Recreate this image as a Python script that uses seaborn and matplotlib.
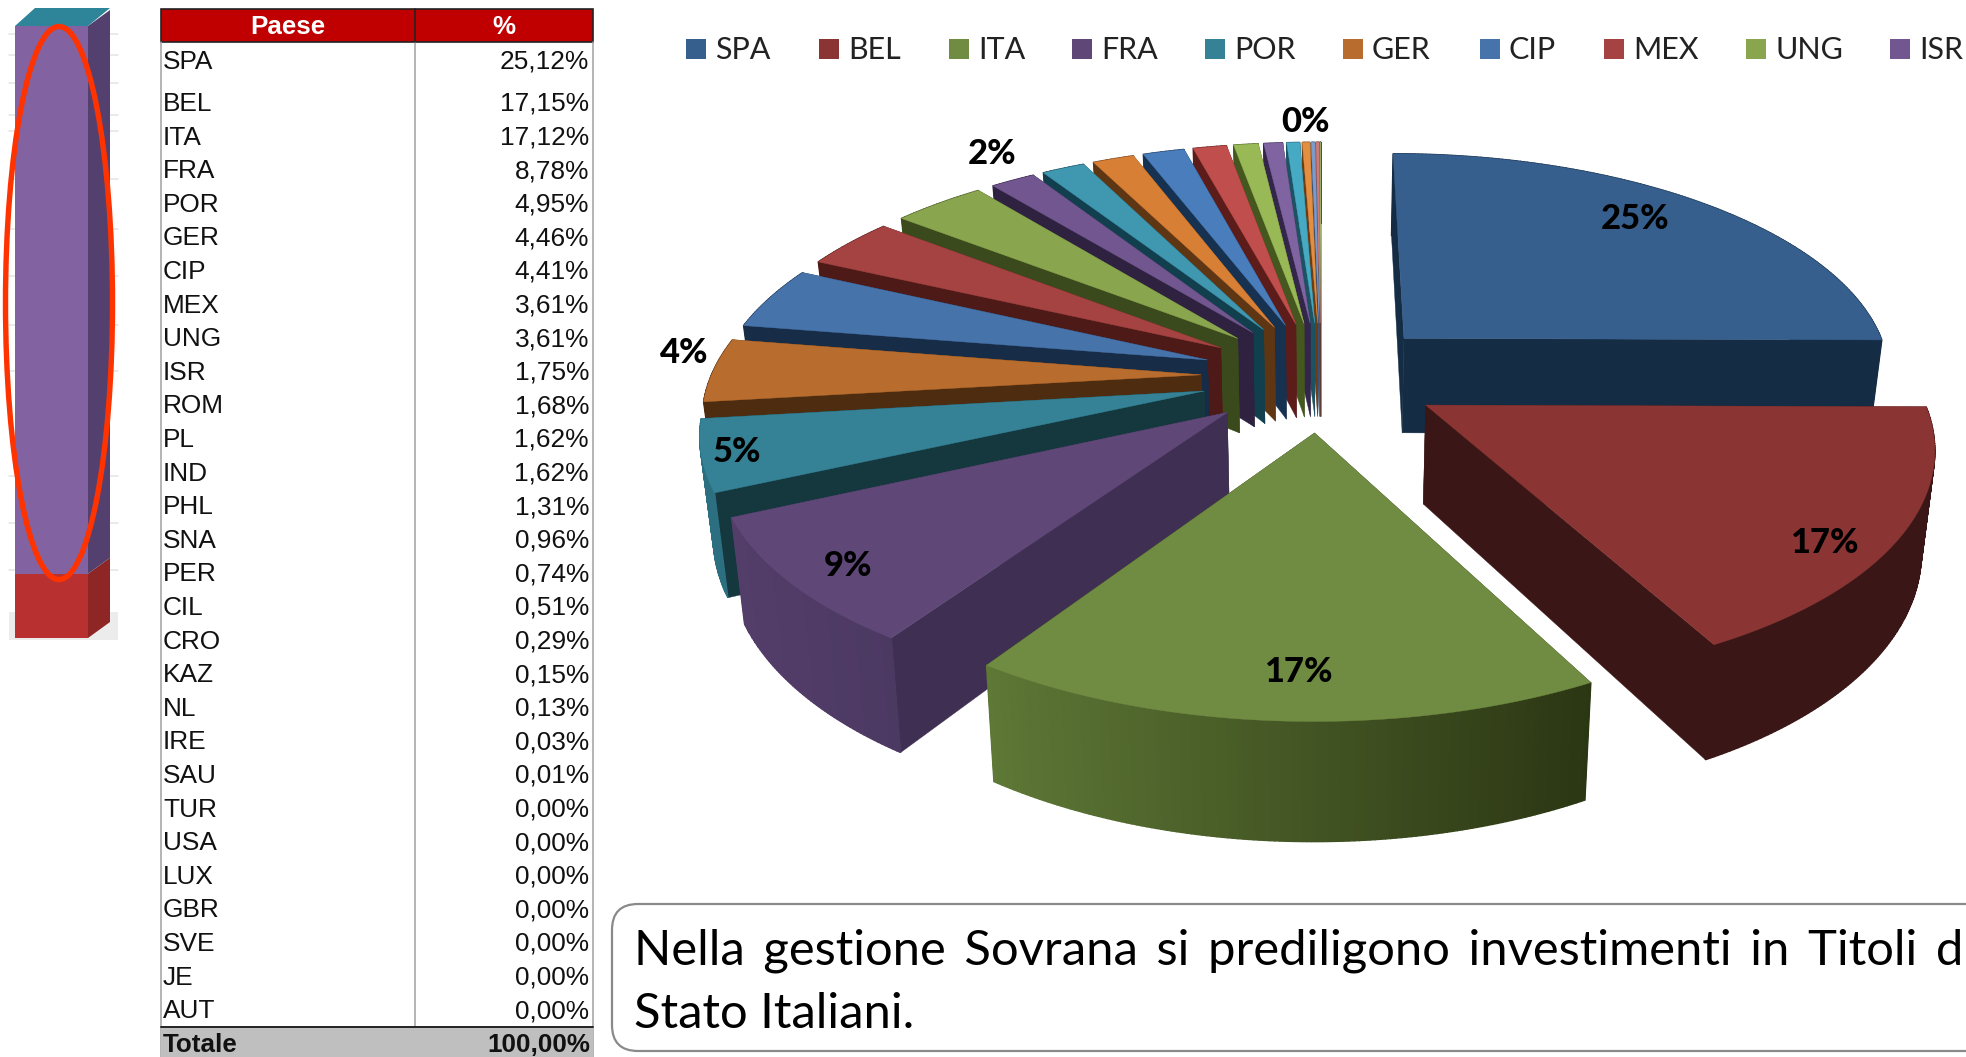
import numpy as np
import pandas as pd
import seaborn as sns
import matplotlib
matplotlib.use("Agg")
import matplotlib.pyplot as plt
from matplotlib.patches import Polygon, Rectangle, Ellipse, FancyBboxPatch

countries = ["SPA","BEL","ITA","FRA","POR","GER","CIP","MEX","UNG","ISR","ROM","PL","IND","PHL","SNA","PER",
             "CIL","CRO","KAZ","NL","IRE","SAU","TUR","USA","LUX","GBR","SVE","JE","AUT"]
percent = [25.12,17.15,17.12,8.78,4.95,4.46,4.41,3.61,3.61,1.75,1.68,1.62,1.62,1.31,0.96,0.74,
           0.51,0.29,0.15,0.13,0.03,0.01,0.0,0.0,0.0,0.0,0.0,0.0,0.0]
percent_text = ["25,12%","17,15%","17,12%","8,78%","4,95%","4,46%","4,41%","3,61%","3,61%","1,75%","1,68%","1,62%",
                "1,62%","1,31%","0,96%","0,74%","0,51%","0,29%","0,15%","0,13%","0,03%","0,01%","0,00%","0,00%",
                "0,00%","0,00%","0,00%","0,00%","0,00%"]
total_text = "100,00%"
legend_names = countries[:10]
top_colors = ["#365f8d","#8a3533","#708b42","#5f4878","#358296","#b86d2e","#4773ab","#a44341","#89a54e","#71568f",
              "#4097b0","#d87f36","#4a7dbb","#bf4e4c","#98b955","#7f64a1","#46aac5","#e48e41","#7b9bcb","#cc7b7a",
              "#a5bd70","#937bb0","#60b5cc","#eba060","#93add6","#d89594","#b5cb85","#a792c0","#7cc4d8"]
wall_colors = ["#152c45","#3a1716","#2d3714","#3f2f52","#15383f","#4e2c10","#172c47","#4e1a17","#3a4a1c","#2e2240",
               "#123f4d","#5f3613","#173150","#5b1c1a","#44571f","#33264a","#1c5261","#6b3d14","#3c5170","#613331",
               "#53613a","#463a58","#2a5a66","#70451f","#455a7a","#6a4444","#596544","#50446a","#3c606c"]
arc_left = {"ITA":"#5e7836","FRA":"#533e6a","BEL":"#3a1716","SPA":"#152c45","POR":"#2b6f80"}
arc_right = {"ITA":"#2b3613","FRA":"#4c3962","BEL":"#3a1716","SPA":"#152c45","POR":"#2b6f80"}
label_text = {"SPA":"25%","BEL":"17%","ITA":"17%","FRA":"9%","POR":"5%","GER":"4%","ISR":"2%","NL":"0%"}
bar_shares = [10.5, 89.5]
bar_colors = ["#b93031","#8262a0"]
bar_side_colors = ["#8f2626","#53406f"]
note_lines = ["Nella gestione Sovrana si prediligono investimenti in Titoli di", "Stato Italiani."]

sns.set_theme(style="white")
plt.rcParams["font.family"] = ["Lato", "DejaVu Sans"]
df = pd.DataFrame({"paese":countries,"pct":percent,"top":top_colors,"wall":wall_colors})
palette = sns.color_palette(top_colors[:10])

W, H = 1966, 1057
fig = plt.figure(figsize=(W/100, H/100), dpi=100, facecolor="white")
ax = fig.add_axes([0,0,1,1])
ax.set_xlim(0, W); ax.set_ylim(H, 0); ax.axis("off")
sns.despine(ax=ax, left=True, bottom=True)
px = lambda v: v*0.72

# ---------------- left 3D stacked bar
BX0,BX1,BX2 = 15,88,110
BT,BB,DY = 26,638,16
for y in [34,55,83,115,131,179,229,276,325,371,476,523,570]:
    ax.plot([9,118],[y,y],color="#e4e4e4",lw=1.1,zorder=1)
ax.add_patch(Rectangle((9,612),109,28,fc="#ececec",ec="none",zorder=1))
span = BB-BT
y_cur = BB
for share,c,cs in zip(bar_shares,bar_colors,bar_side_colors):
    h = span*share/100
    ax.add_patch(Rectangle((BX0,y_cur-h),BX1-BX0,h,fc=c,ec="none",zorder=3))
    ax.add_patch(Polygon([(BX1,y_cur),(BX1,y_cur-h),(BX2,y_cur-h-DY),(BX2,y_cur-DY)],fc=cs,ec="none",zorder=3))
    y_cur -= h
ax.add_patch(Polygon([(BX0,BT),(BX0+20,BT-DY-2),(BX2,BT-DY-2),(BX1,BT)],fc="#2e8599",ec="none",zorder=3))
ax.add_patch(Ellipse((59,303),107,553,fc="none",ec="#ff3300",lw=3.9,zorder=4))

# ---------------- table
TL,TM,TR = 161,415,593
ax.add_patch(Rectangle((TL,9),TR-TL,33,fc="#c00000",ec="#222222",lw=1.2,zorder=2))
ax.plot([TM,TM],[9,42],color="#222222",lw=1.2,zorder=3)
ax.text((TL+TM)/2,27.5,"Paese",color="white",fontweight="bold",fontsize=px(26),family="Liberation Sans",ha="center",va="center",zorder=4)
ax.text((TM+TR)/2,27.5,"%",color="white",fontweight="bold",fontsize=px(26),family="Liberation Sans",ha="center",va="center",zorder=4)
row0, row1, row_step = 62, 104, 33.6
row_y = [row0]+[row1+row_step*i for i in range(len(countries)-1)]
for x in (TL,TM,TR):
    ax.plot([x,x],[42,1027 if x!=TL and x!=TR else H],color="#a0a0a0",lw=1.1,zorder=2)
for y,n,t in zip(row_y,countries,percent_text):
    ax.text(163,y,n,fontsize=px(26.3),family="Liberation Sans",color="#111111",ha="left",va="center")
    ax.text(589,y,t,fontsize=px(26.3),family="Liberation Sans",color="#111111",ha="right",va="center")
ax.add_patch(Rectangle((TL,1027),TR-TL,32,fc="#bfbfbf",ec="none",zorder=2))
ax.plot([TL,TR],[1027,1027],color="#222222",lw=1.4,zorder=3)
ax.text(163,1045,"Totale",fontsize=px(26),fontweight="bold",family="Liberation Sans",color="#111111",ha="left",va="center",zorder=4)
ax.text(590,1045,total_text,fontsize=px(26),fontweight="bold",family="Liberation Sans",color="#111111",ha="right",va="center",zorder=4)

# ---------------- legend
leg_x = [686,819,949,1072,1205,1343,1480,1604,1746,1890]
for x,n,c in zip(leg_x,legend_names,palette):
    ax.add_patch(Rectangle((x,39),20,20,fc=c,ec="none"))
    ax.text(x+29,50,n,fontsize=px(30.5),color="#222222",ha="left",va="center")

# ---------------- exploded 3D pie
CX,CY,R,RK,P,EXPL,DEPTH = 1321,376,490,224,0.155,0.245,97
def proj(X,Y,z=0.0):
    s = 1/(1+P*Y)
    return CX+R*X*s*(1-0.022*z), CY-RK*Y*s+DEPTH*s*z

edges = np.cumsum([0]+percent)/sum(percent)*360
slices=[]
for i,v in enumerate(percent):
    if v<=0: continue
    slices.append((i,edges[i],edges[i+1]))
def mid_y(t):
    a=np.radians((t[1]+t[2])/2); return np.cos(a)
base_z = 10
for rank,(i,a0,a1) in enumerate(sorted(slices,key=lambda t:-mid_y(t))):
    am=np.radians((a0+a1)/2)
    ox,oy=EXPL*np.sin(am),EXPL*np.cos(am)
    th=np.radians(np.linspace(a0,a1,max(int(a1-a0)*2,4)))
    ax_=ox+np.sin(th); ay_=oy+np.cos(th)
    zo=base_z+rank
    walls=[]
    for (xe,ye) in ((ax_[0],ay_[0]),(ax_[-1],ay_[-1])):
        poly=[proj(ox,oy),proj(xe,ye),proj(xe,ye,1),proj(ox,oy,1)]
        walls.append(((oy+ye)/2,poly))
    for _,poly in sorted(walls,key=lambda w:-w[0]):
        ax.add_patch(Polygon(poly,fc=wall_colors[i],ec=wall_colors[i],lw=0.3,zorder=zo))
    n=countries[i]
    cl=matplotlib.colors.to_rgb(arc_left.get(n,wall_colors[i]))
    cr=matplotlib.colors.to_rgb(arc_right.get(n,wall_colors[i]))
    for k in range(len(th)-1):
        f=(ax_[k]+ax_[k+1]-2*ax_.min())/2/max(ax_.max()-ax_.min(),1e-6)
        col=tuple(np.array(cl)*(1-f)+np.array(cr)*f)
        poly=[proj(ax_[k],ay_[k]),proj(ax_[k+1],ay_[k+1]),proj(ax_[k+1],ay_[k+1],1),proj(ax_[k],ay_[k],1)]
        ax.add_patch(Polygon(poly,fc=col,ec=col,lw=1.0,zorder=zo))
    top=[proj(ox,oy)]+[proj(x,y) for x,y in zip(ax_,ay_)]
    ax.add_patch(Polygon(top,fc=top_colors[i],ec=top_colors[i],lw=0.3,zorder=zo))

label_pos = {"SPA":(1635,219),"BEL":(1824,543),"ITA":(1298,672),"FRA":(848,566),"POR":(737,452),"GER":(684,353),"ISR":(992,154),"NL":(1306,122)}
for n,t in label_text.items():
    ax.text(*label_pos[n],t,fontsize=px(34.5),fontweight=900,color="black",ha="center",va="center",zorder=100)

# ---------------- note box
ax.add_patch(FancyBboxPatch((612,904),1500,147,boxstyle="round,pad=0,rounding_size=26",fc="white",ec="#8a8a8a",lw=1.6,zorder=2,mutation_aspect=1))
ax.text(634,951,note_lines[0].replace(" "," \u2009"),fontsize=px(49),color="black",ha="left",va="center",zorder=3)
ax.text(634,1014,note_lines[1],fontsize=px(49),color="black",ha="left",va="center",zorder=3)

fig.savefig("out.png",dpi=100,facecolor="white")
